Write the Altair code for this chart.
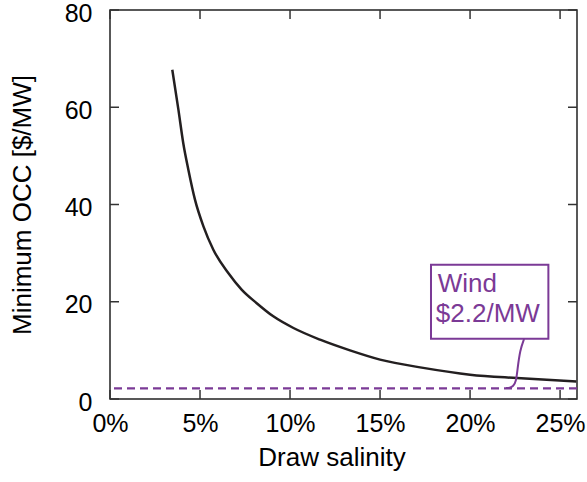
import altair as alt
import pandas as pd

# Curve: minimum OCC vs draw salinity
salinity = [3.46, 3.8, 4.07, 4.35, 4.72, 5.19, 5.74, 6.57, 7.31, 8.15, 9.07, 10.19,
            11.67, 13.33, 15.0, 17.4, 20.0, 22.6, 25.9]
min_occ = [67.7, 59.5, 52.6, 47.2, 41.0, 35.5, 30.7, 25.9, 22.5, 19.7, 17.0, 14.6,
           12.2, 10.0, 8.1, 6.4, 5.0, 4.3, 3.6]

wind_cost = [2.2]
wind_label = ["Wind", "$2.2/MW"]

x_ticks = [0, 5, 10, 15, 20, 25]
y_ticks = [0, 20, 40, 60, 80]

# annotation (data units)
box_x = [17.83, 24.35]
box_y = [12.4, 27.6]
label_x = [18.2, 18.1]
label_y = [22.1, 15.75]
conn_x = [23.0, 23.0, 22.78, 22.63, 22.56, 22.4, 22.2, 22.0, 22.0]
conn_y = [12.34, 12.34, 10.14, 6.03, 3.62, 2.6, 2.3, 2.26, 2.26]

W, H = 467, 389
PURPLE = "#7B3A96"
FONT = "Liberation Sans"
FS = 25

xs = alt.Scale(domain=[0, 25.94], nice=False, zero=False)
ys = alt.Scale(domain=[0, 80], nice=False)

curve_df = pd.DataFrame({"s": salinity, "occ": min_occ})
wind_df = pd.DataFrame({"c": wind_cost})
xt_df = pd.DataFrame({"t": x_ticks})
yt_df = pd.DataFrame({"t": y_ticks})
box_df = pd.DataFrame({"x1": [box_x[0]], "x2": [box_x[1]], "y1": [box_y[0]], "y2": [box_y[1]]})
lab_df = pd.DataFrame({"x": label_x, "y": label_y, "t": wind_label})
conn_df = pd.DataFrame({"x": conn_x, "y": conn_y, "o": list(range(len(conn_x)))})

common = dict(labelFont=FONT, titleFont=FONT, labelFontSize=FS, titleFontSize=26,
              labelColor="black", titleColor="black", titleFontWeight="normal",
              ticks=False, tickSize=0, domain=False, grid=False,
              labelFlush=False, labelOverlap=False, labelBound=False)

x_axis = alt.Axis(values=x_ticks, labelExpr="datum.value + '%'", title="Draw salinity",
                  labelPadding=12, titlePadding=8, titleX=221.5, **common)
y_axis = alt.Axis(values=y_ticks, title="Minimum OCC [$/MW]",
                  labelPadding=18, labelOffset=3, titlePadding=29, **common)

curve = alt.Chart(curve_df).mark_line(color="#231F20", strokeWidth=2.5, interpolate="monotone").encode(
    x=alt.X("s:Q", scale=xs, axis=x_axis),
    y=alt.Y("occ:Q", scale=ys, axis=y_axis),
)

wind = alt.Chart(wind_df).mark_rule(color=PURPLE, strokeWidth=2.3, strokeDash=[8, 5]).encode(
    y=alt.Y("c:Q", scale=ys)
)

tick_style = dict(color="#333333", strokeWidth=1.5)
xt_bottom = alt.Chart(xt_df).mark_rule(**tick_style).encode(
    x=alt.X("t:Q", scale=xs), y=alt.value(H), y2=alt.value(H - 9))
xt_top = alt.Chart(xt_df).mark_rule(**tick_style).encode(
    x=alt.X("t:Q", scale=xs), y=alt.value(0), y2=alt.value(9))
yt_left = alt.Chart(yt_df).mark_rule(**tick_style).encode(
    y=alt.Y("t:Q", scale=ys), x=alt.value(0), x2=alt.value(9))
yt_right = alt.Chart(yt_df).mark_rule(**tick_style).encode(
    y=alt.Y("t:Q", scale=ys), x=alt.value(W), x2=alt.value(W - 9))

conn = alt.Chart(conn_df).mark_line(color=PURPLE, strokeWidth=2, interpolate="basis").encode(
    x=alt.X("x:Q", scale=xs), y=alt.Y("y:Q", scale=ys), order="o:O")

box = alt.Chart(box_df).mark_rect(fill="white", stroke=PURPLE, strokeWidth=2).encode(
    x=alt.X("x1:Q", scale=xs), x2="x2:Q", y=alt.Y("y1:Q", scale=ys), y2="y2:Q")

labels = alt.Chart(lab_df).mark_text(align="left", baseline="alphabetic", font=FONT,
                                      fontSize=26, color=PURPLE).encode(
    x=alt.X("x:Q", scale=xs), y=alt.Y("y:Q", scale=ys), text="t:N")

chart = alt.layer(wind, curve, conn, box, labels, xt_bottom, xt_top, yt_left, yt_right).properties(
    width=W, height=H,
    background="white",
    autosize=alt.AutoSizeParams(type="none"),
    padding={"left": 110, "top": 10, "right": 10, "bottom": 83},
).configure_view(stroke="#222222", strokeWidth=1.5)

chart.save("out.html", embed_options={"renderer": "svg", "actions": False})
